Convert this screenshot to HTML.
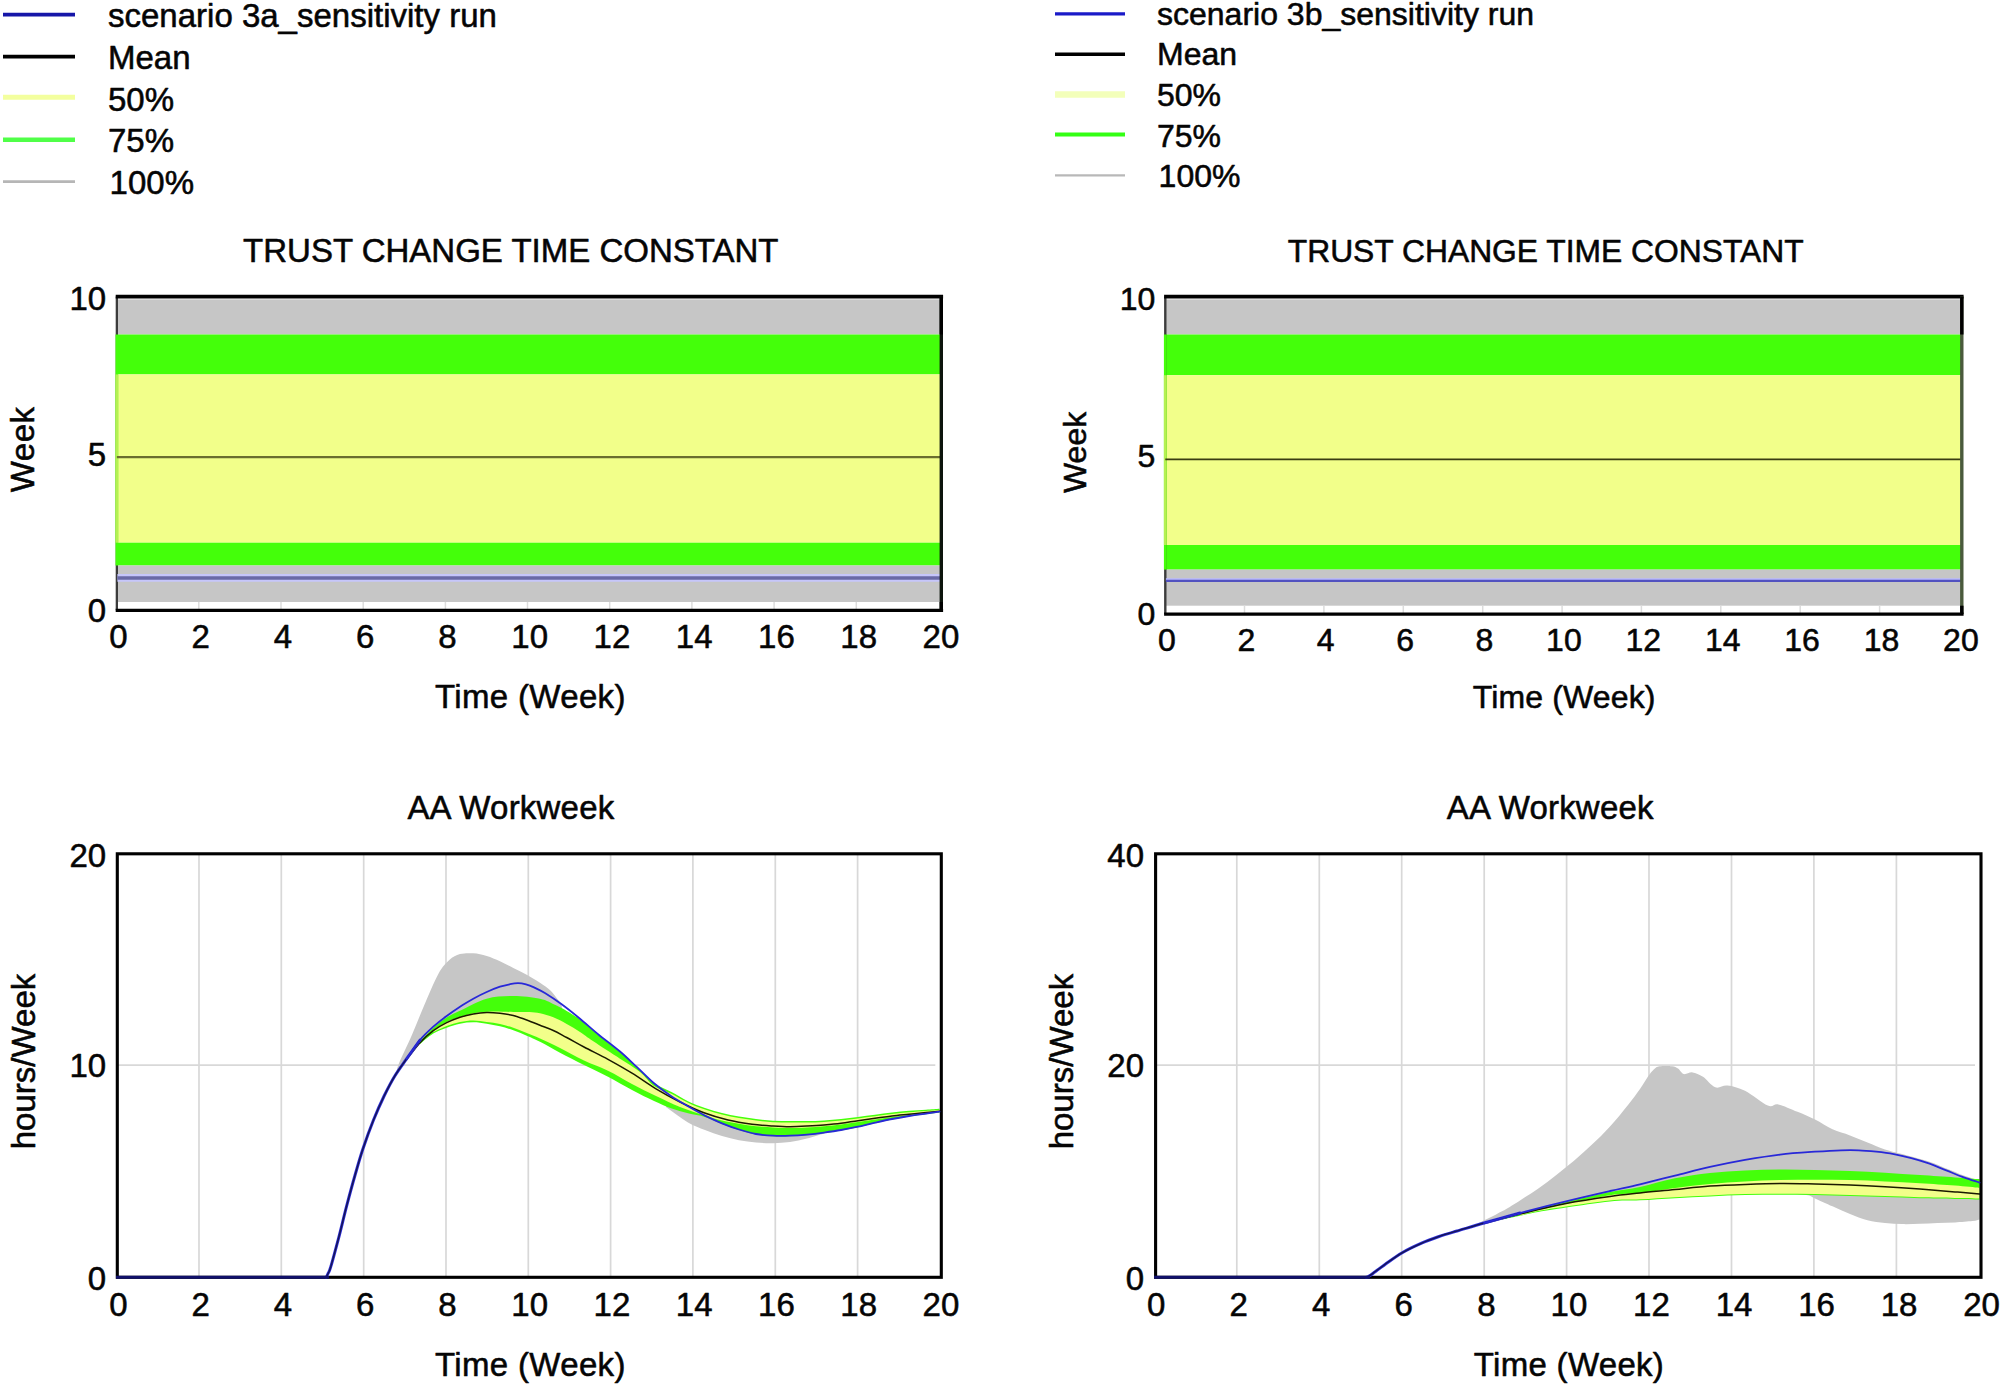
<!DOCTYPE html>
<html lang="en">
<head>
<meta charset="utf-8">
<title>Sensitivity runs: Trust change time constant and AA Workweek</title>
<style>
html, body { margin: 0; padding: 0; background: #ffffff; }
body { width: 2000px; height: 1387px; overflow: hidden; }
svg { display: block; }
svg text { font-family: "Liberation Sans", Arial, sans-serif; fill: #050505; stroke: #050505; stroke-width: 0.55px; stroke-linejoin: round; }
</style>
</head>
<body>
<svg width="2000" height="1387" viewBox="0 0 2000 1387">
<rect x="0" y="0" width="2000" height="1387" fill="#ffffff"/>
<line x1="3" y1="14.7" x2="75" y2="14.7" stroke="#1616a8" stroke-width="3.8"/>
<text x="108" y="27" font-size="33" text-anchor="start">scenario 3a_sensitivity run</text>
<line x1="3" y1="56.6" x2="75" y2="56.6" stroke="#000000" stroke-width="3.8"/>
<text x="108" y="68.9" font-size="33" text-anchor="start">Mean</text>
<line x1="3" y1="97.3" x2="75" y2="97.3" stroke="#f3ff9e" stroke-width="5.0"/>
<text x="108" y="110.6" font-size="33" text-anchor="start">50%</text>
<line x1="3" y1="139.7" x2="75" y2="139.7" stroke="#50ff48" stroke-width="4.6"/>
<text x="108" y="152.2" font-size="33" text-anchor="start">75%</text>
<line x1="3" y1="181.6" x2="75" y2="181.6" stroke="#b6b6b6" stroke-width="2.6"/>
<text x="109.6" y="193.9" font-size="33" text-anchor="start">100%</text>
<line x1="1055" y1="13.9" x2="1125" y2="13.9" stroke="#1a1ac8" stroke-width="3.2"/>
<text x="1157" y="25" font-size="32" text-anchor="start">scenario 3b_sensitivity run</text>
<line x1="1055" y1="54.3" x2="1125" y2="54.3" stroke="#000000" stroke-width="3.6"/>
<text x="1157" y="65.4" font-size="32" text-anchor="start">Mean</text>
<line x1="1055" y1="94.5" x2="1125" y2="94.5" stroke="#f3ffba" stroke-width="6.5"/>
<text x="1157" y="106" font-size="32" text-anchor="start">50%</text>
<line x1="1055" y1="134.5" x2="1125" y2="134.5" stroke="#34ff14" stroke-width="4.2"/>
<text x="1157" y="146.6" font-size="32" text-anchor="start">75%</text>
<line x1="1055" y1="175.4" x2="1125" y2="175.4" stroke="#b8b8b8" stroke-width="2.2"/>
<text x="1158.6" y="187" font-size="32" text-anchor="start">100%</text>
<rect x="117.4" y="299.4" width="823.1" height="35.10000000000002" fill="#c6c6c6"/>
<rect x="117.4" y="334.5" width="823.1" height="39.89999999999998" fill="#44ff0a"/>
<rect x="117.4" y="374.4" width="823.1" height="168.30000000000007" fill="#f2ff8a"/>
<rect x="117.4" y="542.7" width="823.1" height="22.799999999999955" fill="#44ff0a"/>
<rect x="117.4" y="565.5" width="823.1" height="36.5" fill="#c6c6c6"/>
<line x1="116.85" y1="296.6" x2="116.85" y2="610.3" stroke="#3c3c3c" stroke-width="2.3"/>
<line x1="116.85" y1="334.5" x2="116.85" y2="565.5" stroke="#44ff0a" stroke-width="2.6999999999999997"/>
<line x1="116.85" y1="374.4" x2="116.85" y2="542.7" stroke="#b6f052" stroke-width="2.6999999999999997"/>
<line x1="116.85" y1="457.2" x2="940.5" y2="457.2" stroke="#6a6e2e" stroke-width="2.3"/>
<line x1="117.4" y1="577.9" x2="940.5" y2="577.9" stroke="#c6c6fa" stroke-width="7.8"/>
<line x1="117.4" y1="577.9" x2="940.5" y2="577.9" stroke="#6a6aa6" stroke-width="3.5"/>
<line x1="198.8" y1="602" x2="198.8" y2="610.3" stroke="#dcdcdc" stroke-width="1.5"/>
<line x1="281.0" y1="602" x2="281.0" y2="610.3" stroke="#dcdcdc" stroke-width="1.5"/>
<line x1="363.2" y1="602" x2="363.2" y2="610.3" stroke="#dcdcdc" stroke-width="1.5"/>
<line x1="445.4" y1="602" x2="445.4" y2="610.3" stroke="#dcdcdc" stroke-width="1.5"/>
<line x1="527.5" y1="602" x2="527.5" y2="610.3" stroke="#dcdcdc" stroke-width="1.5"/>
<line x1="609.7" y1="602" x2="609.7" y2="610.3" stroke="#dcdcdc" stroke-width="1.5"/>
<line x1="691.9" y1="602" x2="691.9" y2="610.3" stroke="#dcdcdc" stroke-width="1.5"/>
<line x1="774.1" y1="602" x2="774.1" y2="610.3" stroke="#dcdcdc" stroke-width="1.5"/>
<line x1="856.3" y1="602" x2="856.3" y2="610.3" stroke="#dcdcdc" stroke-width="1.5"/>
<line x1="115.7" y1="296.6" x2="943.0999999999999" y2="296.6" stroke="#000" stroke-width="3.6"/>
<line x1="115.7" y1="610.3" x2="943.0999999999999" y2="610.3" stroke="#000" stroke-width="3.2"/>
<line x1="941.3" y1="296.6" x2="941.3" y2="610.3" stroke="#0c140c" stroke-width="3.4"/>
<line x1="941.3" y1="296.6" x2="941.3" y2="334.5" stroke="#000" stroke-width="3.4"/>
<line x1="941.3" y1="602" x2="941.3" y2="610.3" stroke="#000" stroke-width="3.4"/>
<rect x="1165.9" y="299.4" width="795.0999999999999" height="35.10000000000002" fill="#c6c6c6"/>
<rect x="1165.9" y="334.5" width="795.0999999999999" height="40.69999999999999" fill="#44ff0a"/>
<rect x="1165.9" y="375.2" width="795.0999999999999" height="169.8" fill="#f2ff8a"/>
<rect x="1165.9" y="545" width="795.0999999999999" height="24.600000000000023" fill="#44ff0a"/>
<rect x="1165.9" y="569.6" width="795.0999999999999" height="36.10000000000002" fill="#c6c6c6"/>
<line x1="1165.3" y1="296.6" x2="1165.3" y2="614.1" stroke="#3c3c3c" stroke-width="2.4"/>
<line x1="1165.3" y1="334.5" x2="1165.3" y2="569.6" stroke="#44ff0a" stroke-width="2.8"/>
<line x1="1165.3" y1="375.2" x2="1165.3" y2="545" stroke="#b6f052" stroke-width="2.8"/>
<line x1="1165.3" y1="459.4" x2="1961" y2="459.4" stroke="#3a3c12" stroke-width="1.9"/>
<line x1="1165.9" y1="579.6" x2="1961" y2="579.6" stroke="#b8b8fc" stroke-width="2.6"/>
<line x1="1165.9" y1="580.8" x2="1961" y2="580.8" stroke="#5252c0" stroke-width="2.3"/>
<line x1="1244.5" y1="605.7" x2="1244.5" y2="614.1" stroke="#dcdcdc" stroke-width="1.5"/>
<line x1="1323.9" y1="605.7" x2="1323.9" y2="614.1" stroke="#dcdcdc" stroke-width="1.5"/>
<line x1="1403.3" y1="605.7" x2="1403.3" y2="614.1" stroke="#dcdcdc" stroke-width="1.5"/>
<line x1="1482.7" y1="605.7" x2="1482.7" y2="614.1" stroke="#dcdcdc" stroke-width="1.5"/>
<line x1="1562.1" y1="605.7" x2="1562.1" y2="614.1" stroke="#dcdcdc" stroke-width="1.5"/>
<line x1="1641.4" y1="605.7" x2="1641.4" y2="614.1" stroke="#dcdcdc" stroke-width="1.5"/>
<line x1="1720.8" y1="605.7" x2="1720.8" y2="614.1" stroke="#dcdcdc" stroke-width="1.5"/>
<line x1="1800.2" y1="605.7" x2="1800.2" y2="614.1" stroke="#dcdcdc" stroke-width="1.5"/>
<line x1="1879.6" y1="605.7" x2="1879.6" y2="614.1" stroke="#dcdcdc" stroke-width="1.5"/>
<line x1="1164.1" y1="296.6" x2="1963.6" y2="296.6" stroke="#000" stroke-width="3.6"/>
<line x1="1164.1" y1="614.1" x2="1963.6" y2="614.1" stroke="#000" stroke-width="3.2"/>
<line x1="1961.8" y1="296.6" x2="1961.8" y2="614.1" stroke="#4a5a3c" stroke-width="3.4"/>
<line x1="1961.8" y1="296.6" x2="1961.8" y2="334.5" stroke="#000" stroke-width="3.4"/>
<line x1="1961.8" y1="605.7" x2="1961.8" y2="614.1" stroke="#000" stroke-width="3.4"/>
<text x="510.8" y="262" font-size="33" text-anchor="middle">TRUST CHANGE TIME CONSTANT</text>
<text x="1545.7" y="262" font-size="31.8" text-anchor="middle">TRUST CHANGE TIME CONSTANT</text>
<text x="118.5" y="647.7" font-size="33" text-anchor="middle">0</text>
<text x="200.7" y="647.7" font-size="33" text-anchor="middle">2</text>
<text x="283.0" y="647.7" font-size="33" text-anchor="middle">4</text>
<text x="365.2" y="647.7" font-size="33" text-anchor="middle">6</text>
<text x="447.5" y="647.7" font-size="33" text-anchor="middle">8</text>
<text x="529.7" y="647.7" font-size="33" text-anchor="middle">10</text>
<text x="611.9" y="647.7" font-size="33" text-anchor="middle">12</text>
<text x="694.2" y="647.7" font-size="33" text-anchor="middle">14</text>
<text x="776.4" y="647.7" font-size="33" text-anchor="middle">16</text>
<text x="858.7" y="647.7" font-size="33" text-anchor="middle">18</text>
<text x="940.9" y="647.7" font-size="33" text-anchor="middle">20</text>
<text x="530.4" y="708" font-size="33" text-anchor="middle" letter-spacing="0.35">Time (Week)</text>
<text x="106.2" y="309.5" font-size="33" text-anchor="end">10</text>
<text x="106.2" y="466.3" font-size="33" text-anchor="end">5</text>
<text x="106.2" y="622" font-size="33" text-anchor="end">0</text>
<text x="33.8" y="449.3" font-size="33" text-anchor="middle" transform="rotate(-90 33.8 449.3)" letter-spacing="0.5">Week</text>
<text x="1166.9" y="650.6" font-size="32" text-anchor="middle">0</text>
<text x="1246.3" y="650.6" font-size="32" text-anchor="middle">2</text>
<text x="1325.7" y="650.6" font-size="32" text-anchor="middle">4</text>
<text x="1405.1" y="650.6" font-size="32" text-anchor="middle">6</text>
<text x="1484.5" y="650.6" font-size="32" text-anchor="middle">8</text>
<text x="1563.9" y="650.6" font-size="32" text-anchor="middle">10</text>
<text x="1643.3" y="650.6" font-size="32" text-anchor="middle">12</text>
<text x="1722.7" y="650.6" font-size="32" text-anchor="middle">14</text>
<text x="1802.1" y="650.6" font-size="32" text-anchor="middle">16</text>
<text x="1881.5" y="650.6" font-size="32" text-anchor="middle">18</text>
<text x="1960.9" y="650.6" font-size="32" text-anchor="middle">20</text>
<text x="1564.2" y="708" font-size="32" text-anchor="middle" letter-spacing="0.15">Time (Week)</text>
<text x="1155.4" y="309.5" font-size="32" text-anchor="end">10</text>
<text x="1155.4" y="467.2" font-size="32" text-anchor="end">5</text>
<text x="1155.4" y="625" font-size="32" text-anchor="end">0</text>
<text x="1085.6" y="452.4" font-size="32" text-anchor="middle" transform="rotate(-90 1085.6 452.4)">Week</text>
<line x1="199.0" y1="853.8" x2="199.0" y2="1277.3" stroke="#d8d8d8" stroke-width="1.7"/>
<line x1="281.3" y1="853.8" x2="281.3" y2="1277.3" stroke="#d8d8d8" stroke-width="1.7"/>
<line x1="363.7" y1="853.8" x2="363.7" y2="1277.3" stroke="#d8d8d8" stroke-width="1.7"/>
<line x1="446.0" y1="853.8" x2="446.0" y2="1277.3" stroke="#d8d8d8" stroke-width="1.7"/>
<line x1="528.3" y1="853.8" x2="528.3" y2="1277.3" stroke="#d8d8d8" stroke-width="1.7"/>
<line x1="610.6" y1="853.8" x2="610.6" y2="1277.3" stroke="#d8d8d8" stroke-width="1.7"/>
<line x1="692.9" y1="853.8" x2="692.9" y2="1277.3" stroke="#d8d8d8" stroke-width="1.7"/>
<line x1="775.3" y1="853.8" x2="775.3" y2="1277.3" stroke="#d8d8d8" stroke-width="1.7"/>
<line x1="857.6" y1="853.8" x2="857.6" y2="1277.3" stroke="#d8d8d8" stroke-width="1.7"/>
<line x1="117.3" y1="1065.05" x2="935.3" y2="1065.05" stroke="#d8d8d8" stroke-width="1.7"/>
<path d="M396.0,1076.0 C396.4,1074.0 396.0,1070.9 398.7,1064.0 C401.4,1057.1 407.6,1044.9 412.0,1034.7 C416.4,1024.5 420.9,1012.9 425.3,1002.7 C429.8,992.5 434.7,980.4 438.7,973.3 C442.7,966.2 445.8,963.2 449.3,960.0 C452.9,956.8 456.0,955.2 460.0,954.1 C464.0,953.0 468.9,953.0 473.3,953.3 C477.8,953.6 482.2,954.7 486.7,956.0 C491.1,957.3 495.6,959.3 500.0,961.3 C504.4,963.3 508.8,965.8 513.3,968.0 C517.8,970.2 522.2,972.2 526.7,974.7 C531.2,977.2 536.0,980.0 540.0,982.7 C544.0,985.4 547.2,987.2 550.7,990.7 C554.2,994.2 559.5,1001.8 561.3,1004.0 L561.3,1004.0 C562.2,1009.6 568.0,1033.1 566.7,1037.5 C565.4,1041.9 557.8,1032.5 553.3,1030.5 C548.8,1028.5 544.4,1027.0 540.0,1025.3 C535.6,1023.5 531.2,1021.6 526.7,1020.0 C522.2,1018.4 517.8,1016.6 513.3,1015.5 C508.8,1014.4 504.4,1013.8 500.0,1013.3 C495.6,1012.8 491.1,1012.4 486.7,1012.5 C482.2,1012.6 477.8,1013.1 473.3,1013.9 C468.9,1014.7 464.4,1015.8 460.0,1017.3 C455.6,1018.8 451.1,1020.5 446.7,1022.7 C442.2,1024.9 437.8,1027.4 433.3,1030.7 C428.9,1034.0 424.4,1037.9 420.0,1042.7 C415.6,1047.5 410.7,1054.0 406.7,1059.5 C402.7,1065.0 397.8,1073.2 396.0,1076.0 Z" fill="#c6c6c6"/>
<path d="M666.0,1093.5 C669.7,1095.6 681.5,1102.6 688.0,1106.3 C694.5,1110.0 699.3,1112.8 705.0,1115.6 C710.7,1118.4 716.3,1121.0 722.0,1123.3 C727.7,1125.6 733.3,1127.7 739.0,1129.5 C744.7,1131.3 750.3,1133.0 756.0,1134.0 C761.7,1135.0 767.3,1135.4 773.0,1135.7 C778.7,1136.0 784.3,1135.9 790.0,1135.7 C795.7,1135.5 801.3,1135.1 807.0,1134.6 C812.7,1134.1 821.2,1132.9 824.0,1132.6 L824.0,1133.5 C821.2,1134.3 812.7,1137.2 807.0,1138.6 C801.3,1140.0 795.7,1141.2 790.0,1142.0 C784.3,1142.8 778.7,1143.1 773.0,1143.2 C767.3,1143.3 761.7,1143.0 756.0,1142.5 C750.3,1142.0 744.7,1141.4 739.0,1140.3 C733.3,1139.2 727.7,1137.7 722.0,1136.0 C716.3,1134.3 710.7,1132.3 705.0,1130.0 C699.3,1127.7 694.5,1126.2 688.0,1122.4 C681.5,1118.6 669.7,1109.6 666.0,1107.0 Z" fill="#c6c6c6"/>
<path d="M420.0,1041.0 C422.2,1038.8 428.9,1031.9 433.3,1028.0 C437.8,1024.1 442.2,1020.4 446.7,1017.5 C451.1,1014.6 453.3,1013.8 460.0,1010.7 C466.7,1007.6 477.8,1001.2 486.7,998.7 C495.6,996.2 504.4,996.0 513.3,996.0 C522.2,996.0 532.9,997.2 540.0,998.7 C547.1,1000.2 551.5,1003.2 556.0,1005.3 C560.5,1007.3 562.7,1008.6 566.7,1011.0 C570.7,1013.4 574.7,1015.5 580.0,1019.5 C585.3,1023.5 592.0,1029.8 598.7,1035.2 C605.4,1040.6 613.6,1046.6 620.0,1052.0 C626.4,1057.4 631.3,1062.3 637.0,1067.5 C642.7,1072.7 648.3,1079.0 654.0,1083.0 C659.7,1087.0 665.3,1088.8 671.0,1091.8 C676.7,1094.8 682.3,1098.5 688.0,1101.2 C693.7,1103.9 699.3,1106.0 705.0,1108.0 C710.7,1110.0 716.3,1111.6 722.0,1113.0 C727.7,1114.4 733.3,1115.5 739.0,1116.5 C744.7,1117.5 750.3,1118.3 756.0,1119.0 C761.7,1119.7 767.3,1120.4 773.0,1120.7 C778.7,1121.0 784.3,1121.0 790.0,1121.0 C795.7,1121.0 801.3,1121.1 807.0,1121.0 C812.7,1120.9 818.3,1120.7 824.0,1120.4 C829.7,1120.1 835.3,1119.6 841.0,1119.0 C846.7,1118.4 852.3,1117.7 858.0,1117.0 C863.7,1116.3 869.3,1115.5 875.0,1114.8 C880.7,1114.0 886.3,1113.2 892.0,1112.5 C897.7,1111.8 903.3,1111.3 909.0,1110.8 C914.7,1110.3 920.9,1110.0 926.0,1109.7 C931.1,1109.4 937.2,1109.0 939.5,1108.8 L939.5,1112.5 C937.2,1112.8 931.1,1113.5 926.0,1114.2 C920.9,1114.9 914.7,1115.7 909.0,1116.6 C903.3,1117.5 897.7,1118.5 892.0,1119.6 C886.3,1120.7 880.7,1122.0 875.0,1123.3 C869.3,1124.6 863.7,1126.1 858.0,1127.3 C852.3,1128.5 846.7,1129.6 841.0,1130.6 C835.3,1131.6 829.7,1132.4 824.0,1133.2 C818.3,1134.0 812.7,1134.7 807.0,1135.2 C801.3,1135.7 795.7,1136.1 790.0,1136.3 C784.3,1136.5 778.7,1136.6 773.0,1136.3 C767.3,1136.0 761.7,1135.6 756.0,1134.6 C750.3,1133.6 744.7,1131.9 739.0,1130.1 C733.3,1128.3 727.7,1126.1 722.0,1123.9 C716.3,1121.7 710.7,1118.8 705.0,1117.0 C699.3,1115.2 693.7,1114.8 688.0,1113.3 C682.3,1111.8 676.7,1110.3 671.0,1108.3 C665.3,1106.2 660.5,1104.0 654.0,1101.0 C647.5,1098.0 639.7,1094.0 632.0,1090.0 C624.3,1086.0 616.0,1081.0 608.0,1076.8 C600.0,1072.6 592.0,1069.0 584.0,1065.0 C576.0,1061.0 567.3,1056.7 560.0,1052.8 C552.7,1048.9 545.5,1044.6 540.0,1041.8 C534.5,1039.0 531.2,1037.6 526.7,1035.7 C522.2,1033.8 517.8,1031.9 513.3,1030.3 C508.8,1028.7 504.4,1027.4 500.0,1026.3 C495.6,1025.2 491.1,1024.4 486.7,1023.7 C482.2,1023.0 477.8,1022.3 473.3,1022.3 C468.9,1022.3 464.4,1022.8 460.0,1023.7 C455.6,1024.6 451.1,1026.1 446.7,1027.7 C442.2,1029.3 437.8,1030.8 433.3,1033.5 C428.9,1036.2 422.2,1042.2 420.0,1044.0 Z" fill="#44ff0a"/>
<path d="M433.3,1030.0 C436.0,1028.5 442.6,1023.6 449.3,1020.8 C456.0,1018.0 466.2,1014.8 473.3,1013.3 C480.4,1011.8 485.3,1011.7 492.0,1011.5 C498.7,1011.3 507.1,1011.9 513.3,1012.0 C519.5,1012.1 524.8,1011.8 529.3,1012.0 C533.8,1012.2 536.0,1012.4 540.0,1013.3 C544.0,1014.2 548.8,1015.5 553.3,1017.3 C557.8,1019.1 562.2,1021.5 566.7,1024.0 C571.2,1026.5 575.6,1029.1 580.0,1032.0 C584.4,1034.9 586.6,1036.8 593.3,1041.3 C600.0,1045.8 612.2,1053.6 620.0,1058.7 C627.8,1063.8 634.3,1067.5 640.0,1072.0 C645.7,1076.5 648.8,1082.4 654.0,1086.0 C659.2,1089.6 665.3,1090.7 671.0,1093.5 C676.7,1096.3 682.3,1100.0 688.0,1102.7 C693.7,1105.4 699.3,1107.5 705.0,1109.5 C710.7,1111.5 716.3,1113.1 722.0,1114.5 C727.7,1115.9 733.3,1117.0 739.0,1118.0 C744.7,1119.0 750.3,1119.8 756.0,1120.5 C761.7,1121.2 767.3,1121.9 773.0,1122.2 C778.7,1122.5 784.3,1122.5 790.0,1122.5 C795.7,1122.5 801.3,1122.6 807.0,1122.5 C812.7,1122.4 818.3,1122.2 824.0,1121.9 C829.7,1121.6 835.3,1121.1 841.0,1120.5 C846.7,1119.9 852.3,1119.2 858.0,1118.5 C863.7,1117.8 869.3,1117.0 875.0,1116.3 C880.7,1115.5 886.3,1114.7 892.0,1114.0 C897.7,1113.3 903.3,1112.8 909.0,1112.3 C914.7,1111.8 920.9,1111.4 926.0,1111.0 C931.1,1110.6 937.2,1110.2 939.5,1110.0 L939.5,1112.0 C937.2,1112.2 931.1,1112.8 926.0,1113.3 C920.9,1113.8 914.7,1114.4 909.0,1115.0 C903.3,1115.6 897.7,1116.2 892.0,1117.0 C886.3,1117.8 880.7,1118.7 875.0,1119.5 C869.3,1120.3 863.7,1121.2 858.0,1122.0 C852.3,1122.8 846.7,1123.9 841.0,1124.6 C835.3,1125.3 829.7,1125.8 824.0,1126.3 C818.3,1126.8 812.7,1127.1 807.0,1127.4 C801.3,1127.7 795.7,1128.0 790.0,1128.0 C784.3,1128.0 778.7,1127.7 773.0,1127.4 C767.3,1127.1 761.7,1126.9 756.0,1126.3 C750.3,1125.7 744.7,1124.8 739.0,1123.8 C733.3,1122.8 727.8,1121.9 722.0,1120.5 C716.2,1119.1 711.0,1117.5 704.0,1115.2 C697.0,1113.0 688.0,1110.2 680.0,1107.0 C672.0,1103.8 664.0,1099.8 656.0,1096.0 C648.0,1092.2 640.0,1088.2 632.0,1084.0 C624.0,1079.8 616.0,1074.7 608.0,1070.8 C600.0,1066.9 592.0,1064.3 584.0,1060.5 C576.0,1056.7 567.3,1051.7 560.0,1048.0 C552.7,1044.3 545.5,1041.0 540.0,1038.5 C534.5,1036.0 531.2,1034.8 526.7,1033.0 C522.2,1031.2 517.8,1029.3 513.3,1027.8 C508.8,1026.3 504.4,1025.0 500.0,1024.0 C495.6,1023.0 491.1,1022.6 486.7,1022.0 C482.2,1021.4 477.8,1020.5 473.3,1020.5 C468.9,1020.5 464.4,1021.1 460.0,1022.0 C455.6,1022.9 451.1,1024.3 446.7,1026.0 C442.2,1027.7 435.5,1031.0 433.3,1032.0 Z" fill="#f2ff8a"/>
<path d="M406.7,1059.5 C408.9,1056.7 415.6,1047.5 420.0,1042.7 C424.4,1037.9 428.9,1034.0 433.3,1030.7 C437.8,1027.4 442.2,1024.9 446.7,1022.7 C451.1,1020.5 455.6,1018.8 460.0,1017.3 C464.4,1015.8 468.9,1014.7 473.3,1013.9 C477.8,1013.1 482.2,1012.6 486.7,1012.5 C491.1,1012.4 495.6,1012.8 500.0,1013.3 C504.4,1013.8 508.8,1014.4 513.3,1015.5 C517.8,1016.6 522.2,1018.4 526.7,1020.0 C531.2,1021.6 535.6,1023.5 540.0,1025.3 C544.4,1027.0 548.8,1028.5 553.3,1030.5 C557.8,1032.5 561.6,1034.8 566.7,1037.5 C571.8,1040.2 577.1,1043.3 584.0,1047.0 C590.9,1050.7 600.0,1055.0 608.0,1059.4 C616.0,1063.8 624.0,1068.3 632.0,1073.2 C640.0,1078.1 648.0,1084.0 656.0,1088.8 C664.0,1093.6 672.0,1098.0 680.0,1102.0 C688.0,1106.0 696.0,1109.8 704.0,1112.8 C712.0,1115.8 720.0,1118.1 728.0,1120.0 C736.0,1121.9 744.5,1123.2 752.0,1124.2 C759.5,1125.2 766.7,1125.6 773.0,1126.0 C779.3,1126.4 784.3,1126.7 790.0,1126.7 C795.7,1126.7 801.3,1126.4 807.0,1126.1 C812.7,1125.8 818.3,1125.5 824.0,1125.0 C829.7,1124.5 835.3,1124.0 841.0,1123.3 C846.7,1122.6 852.3,1121.5 858.0,1120.7 C863.7,1119.9 869.3,1119.0 875.0,1118.2 C880.7,1117.4 886.3,1116.7 892.0,1116.0 C897.7,1115.3 903.3,1114.8 909.0,1114.2 C914.7,1113.6 920.9,1113.0 926.0,1112.5 C931.1,1112.0 937.2,1111.4 939.5,1111.2" fill="none" stroke="#1a1a00" stroke-width="1.5" stroke-linejoin="round" stroke-linecap="round"/>
<rect x="117.3" y="853.8" width="824.0" height="423.5" fill="none" stroke="#000" stroke-width="3.1"/>
<path d="M326.1,1277.3 C326.4,1276.8 327.0,1275.8 327.8,1274.0 C328.6,1272.2 329.0,1272.8 330.8,1266.7 C332.6,1260.6 336.1,1247.5 338.8,1237.3 C341.5,1227.1 344.1,1215.5 346.8,1205.3 C349.5,1195.1 352.1,1185.3 354.8,1176.0 C357.5,1166.7 359.7,1158.6 362.8,1149.3 C365.9,1140.0 369.9,1128.9 373.5,1120.0 C377.1,1111.1 380.6,1103.3 384.1,1096.0 C387.7,1088.7 391.0,1082.2 394.8,1076.0 C398.6,1069.8 402.5,1064.7 406.7,1058.7 C410.9,1052.7 417.8,1043.1 420.0,1040.0" fill="none" stroke="#3232e0" stroke-width="3.0" stroke-linejoin="round" stroke-linecap="round"/>
<path d="M326.1,1277.3 C326.4,1276.8 327.0,1275.8 327.8,1274.0 C328.6,1272.2 329.0,1272.8 330.8,1266.7 C332.6,1260.6 336.1,1247.5 338.8,1237.3 C341.5,1227.1 344.1,1215.5 346.8,1205.3 C349.5,1195.1 352.1,1185.3 354.8,1176.0 C357.5,1166.7 359.7,1158.6 362.8,1149.3 C365.9,1140.0 369.9,1128.9 373.5,1120.0 C377.1,1111.1 380.6,1103.3 384.1,1096.0 C387.7,1088.7 391.0,1082.2 394.8,1076.0 C398.6,1069.8 402.5,1064.7 406.7,1058.7 C410.9,1052.7 417.8,1043.1 420.0,1040.0" fill="none" stroke="#15155c" stroke-width="1.6" stroke-linejoin="round" stroke-linecap="round"/>
<path d="M406.7,1058.7 C408.9,1055.6 415.6,1045.3 420.0,1040.0 C424.4,1034.7 428.9,1030.7 433.3,1026.7 C437.8,1022.7 442.2,1019.3 446.7,1016.0 C451.1,1012.7 455.6,1009.6 460.0,1006.7 C464.4,1003.8 468.9,1001.2 473.3,998.7 C477.8,996.2 482.2,994.0 486.7,992.0 C491.1,990.0 496.1,988.0 500.0,986.7 C503.9,985.4 507.0,984.8 510.0,984.2 C513.0,983.6 515.3,983.2 518.0,983.2 C520.7,983.2 523.3,983.7 526.0,984.4 C528.7,985.1 530.8,985.9 534.0,987.4 C537.2,988.9 540.8,990.5 545.3,993.3 C549.8,996.1 555.5,999.8 561.3,1004.0 C567.1,1008.2 573.8,1013.6 580.0,1018.7 C586.2,1023.8 592.0,1029.2 598.7,1034.7 C605.4,1040.2 613.6,1046.1 620.0,1051.5 C626.4,1056.9 631.3,1061.9 637.0,1067.2 C642.7,1072.5 648.3,1078.5 654.0,1083.3 C659.7,1088.1 665.3,1092.2 671.0,1096.0 C676.7,1099.8 682.3,1103.0 688.0,1106.3 C693.7,1109.6 699.3,1112.8 705.0,1115.6 C710.7,1118.4 716.3,1121.0 722.0,1123.3 C727.7,1125.6 733.3,1127.7 739.0,1129.5 C744.7,1131.3 750.3,1133.0 756.0,1134.0 C761.7,1135.0 767.3,1135.4 773.0,1135.7 C778.7,1136.0 784.3,1135.9 790.0,1135.7 C795.7,1135.5 801.3,1135.1 807.0,1134.6 C812.7,1134.1 818.3,1133.4 824.0,1132.6 C829.7,1131.8 835.3,1131.0 841.0,1130.0 C846.7,1129.0 852.3,1127.9 858.0,1126.7 C863.7,1125.5 869.3,1124.0 875.0,1122.7 C880.7,1121.4 886.3,1120.1 892.0,1119.0 C897.7,1117.9 903.3,1116.9 909.0,1116.0 C914.7,1115.1 920.9,1114.3 926.0,1113.6 C931.1,1112.9 937.2,1112.0 939.5,1111.7" fill="none" stroke="#2828d8" stroke-width="1.8" stroke-linejoin="round" stroke-linecap="round"/>
<line x1="116" y1="1277.3" x2="329" y2="1277.3" stroke="#10106a" stroke-width="3.1"/>
<text x="510.9" y="818.5" font-size="33" text-anchor="middle" letter-spacing="0.2">AA Workweek</text>
<text x="118.5" y="1316.3" font-size="33" text-anchor="middle">0</text>
<text x="200.7" y="1316.3" font-size="33" text-anchor="middle">2</text>
<text x="283.0" y="1316.3" font-size="33" text-anchor="middle">4</text>
<text x="365.2" y="1316.3" font-size="33" text-anchor="middle">6</text>
<text x="447.5" y="1316.3" font-size="33" text-anchor="middle">8</text>
<text x="529.7" y="1316.3" font-size="33" text-anchor="middle">10</text>
<text x="611.9" y="1316.3" font-size="33" text-anchor="middle">12</text>
<text x="694.2" y="1316.3" font-size="33" text-anchor="middle">14</text>
<text x="776.4" y="1316.3" font-size="33" text-anchor="middle">16</text>
<text x="858.7" y="1316.3" font-size="33" text-anchor="middle">18</text>
<text x="940.9" y="1316.3" font-size="33" text-anchor="middle">20</text>
<text x="530.4" y="1375.7" font-size="33" text-anchor="middle" letter-spacing="0.35">Time (Week)</text>
<text x="106.2" y="867" font-size="33" text-anchor="end">20</text>
<text x="106.2" y="1077" font-size="33" text-anchor="end">10</text>
<text x="106.2" y="1289.5" font-size="33" text-anchor="end">0</text>
<text x="34.6" y="1061.5" font-size="33" text-anchor="middle" transform="rotate(-90 34.6 1061.5)">hours/Week</text>
<line x1="1236.8" y1="853.8" x2="1236.8" y2="1277.3" stroke="#d8d8d8" stroke-width="1.7"/>
<line x1="1319.3" y1="853.8" x2="1319.3" y2="1277.3" stroke="#d8d8d8" stroke-width="1.7"/>
<line x1="1401.7" y1="853.8" x2="1401.7" y2="1277.3" stroke="#d8d8d8" stroke-width="1.7"/>
<line x1="1484.2" y1="853.8" x2="1484.2" y2="1277.3" stroke="#d8d8d8" stroke-width="1.7"/>
<line x1="1566.6" y1="853.8" x2="1566.6" y2="1277.3" stroke="#d8d8d8" stroke-width="1.7"/>
<line x1="1649.0" y1="853.8" x2="1649.0" y2="1277.3" stroke="#d8d8d8" stroke-width="1.7"/>
<line x1="1731.5" y1="853.8" x2="1731.5" y2="1277.3" stroke="#d8d8d8" stroke-width="1.7"/>
<line x1="1813.9" y1="853.8" x2="1813.9" y2="1277.3" stroke="#d8d8d8" stroke-width="1.7"/>
<line x1="1896.4" y1="853.8" x2="1896.4" y2="1277.3" stroke="#d8d8d8" stroke-width="1.7"/>
<line x1="1155.6" y1="1065.05" x2="1975" y2="1065.05" stroke="#d8d8d8" stroke-width="1.7"/>
<path d="M1457.0,1231.0 C1460.0,1230.0 1467.5,1228.1 1475.0,1224.8 C1482.5,1221.5 1494.5,1215.4 1502.0,1211.3 C1509.5,1207.2 1514.0,1204.2 1520.0,1200.4 C1526.0,1196.6 1532.0,1192.9 1538.0,1188.7 C1544.0,1184.5 1550.0,1179.9 1556.0,1175.2 C1562.0,1170.5 1568.0,1165.9 1574.0,1160.8 C1580.0,1155.7 1586.0,1150.3 1592.0,1144.6 C1598.0,1138.9 1604.0,1133.1 1610.0,1126.5 C1616.0,1119.9 1623.0,1111.2 1628.0,1104.9 C1633.0,1098.7 1636.7,1093.7 1640.0,1089.0 C1643.3,1084.3 1645.7,1079.8 1648.0,1076.5 C1650.3,1073.2 1652.1,1071.0 1654.0,1069.3 C1655.9,1067.6 1656.5,1066.8 1659.5,1066.3 C1662.5,1065.8 1668.9,1065.8 1672.0,1066.2 C1675.1,1066.6 1676.0,1067.3 1678.0,1068.6 C1680.0,1069.9 1681.4,1073.5 1683.8,1074.1 C1686.2,1074.7 1689.3,1072.0 1692.5,1072.4 C1695.7,1072.9 1699.2,1074.3 1703.0,1076.8 C1706.8,1079.3 1711.2,1085.8 1715.3,1087.3 C1719.4,1088.8 1722.5,1084.9 1727.5,1085.5 C1732.5,1086.1 1738.3,1087.5 1745.0,1090.8 C1751.7,1094.1 1762.2,1103.3 1767.8,1105.6 C1773.3,1107.9 1773.3,1103.4 1778.3,1104.4 C1783.2,1105.4 1791.4,1109.3 1797.5,1111.8 C1803.6,1114.3 1809.2,1116.7 1815.0,1119.6 C1820.8,1122.5 1826.7,1126.7 1832.5,1129.3 C1838.3,1131.9 1844.2,1133.2 1850.0,1135.4 C1855.8,1137.6 1861.7,1140.1 1867.5,1142.4 C1873.3,1144.7 1879.6,1147.6 1885.0,1149.4 C1890.4,1151.2 1892.7,1151.5 1900.0,1153.5 C1907.3,1155.5 1921.1,1159.0 1928.8,1161.5 C1936.5,1164.0 1940.5,1166.2 1946.3,1168.5 C1952.1,1170.8 1958.3,1173.5 1963.8,1175.5 C1969.3,1177.5 1976.9,1179.7 1979.5,1180.5 L1979.5,1219.4 C1978.3,1219.7 1976.6,1220.6 1972.5,1221.1 C1968.4,1221.6 1960.8,1222.1 1955.0,1222.4 C1949.2,1222.7 1943.3,1222.7 1937.5,1222.9 C1931.7,1223.1 1925.8,1223.6 1920.0,1223.8 C1914.2,1224.0 1908.3,1224.2 1902.5,1224.1 C1896.7,1223.9 1890.8,1223.5 1885.0,1222.9 C1879.2,1222.3 1873.3,1221.8 1867.5,1220.3 C1861.7,1218.8 1855.8,1216.4 1850.0,1214.1 C1844.2,1211.8 1838.3,1208.9 1832.5,1206.3 C1826.7,1203.7 1819.4,1200.3 1815.0,1198.4 C1810.6,1196.5 1811.8,1195.8 1806.0,1195.0 C1800.2,1194.2 1790.2,1193.9 1780.0,1193.7 C1769.8,1193.5 1756.7,1193.7 1745.0,1194.0 C1733.3,1194.3 1721.7,1194.9 1710.0,1195.4 C1698.3,1195.9 1686.7,1196.6 1675.0,1197.2 C1663.3,1197.8 1650.8,1198.8 1640.0,1199.3 C1629.2,1199.8 1622.3,1199.2 1610.0,1200.4 C1597.7,1201.6 1578.0,1204.7 1566.0,1206.5 C1554.0,1208.3 1548.7,1209.0 1538.0,1211.0 C1527.3,1213.0 1512.5,1216.3 1502.0,1218.8 C1491.5,1221.3 1479.5,1224.8 1475.0,1226.0 Z" fill="#c6c6c6"/>
<path d="M1502.0,1218.0 C1508.0,1216.4 1527.3,1211.2 1538.0,1208.5 C1548.7,1205.8 1554.0,1204.8 1566.0,1202.0 C1578.0,1199.2 1597.7,1194.5 1610.0,1192.0 C1622.3,1189.5 1629.2,1189.3 1640.0,1187.0 C1650.8,1184.7 1663.3,1180.6 1675.0,1178.3 C1686.7,1176.0 1698.3,1174.3 1710.0,1173.0 C1721.7,1171.7 1733.3,1171.0 1745.0,1170.4 C1756.7,1169.8 1768.3,1169.6 1780.0,1169.5 C1791.7,1169.4 1803.3,1169.7 1815.0,1169.9 C1826.7,1170.1 1838.3,1170.4 1850.0,1170.9 C1861.7,1171.4 1873.3,1172.0 1885.0,1172.7 C1896.7,1173.4 1908.3,1174.3 1920.0,1175.1 C1931.7,1175.9 1945.1,1176.7 1955.0,1177.4 C1964.9,1178.1 1975.4,1178.8 1979.5,1179.1 L1979.5,1199.4 C1975.4,1199.3 1964.9,1199.1 1955.0,1198.9 C1945.1,1198.7 1931.7,1198.5 1920.0,1198.2 C1908.3,1197.9 1896.7,1197.5 1885.0,1197.1 C1873.3,1196.7 1861.7,1196.2 1850.0,1195.9 C1838.3,1195.6 1826.7,1195.2 1815.0,1195.0 C1803.3,1194.8 1791.7,1194.7 1780.0,1194.7 C1768.3,1194.7 1756.7,1194.7 1745.0,1195.0 C1733.3,1195.3 1721.7,1195.9 1710.0,1196.4 C1698.3,1196.9 1686.7,1197.6 1675.0,1198.2 C1663.3,1198.8 1650.8,1199.8 1640.0,1200.3 C1629.2,1200.8 1622.3,1200.2 1610.0,1201.4 C1597.7,1202.6 1578.0,1205.7 1566.0,1207.5 C1554.0,1209.3 1548.7,1210.0 1538.0,1212.0 C1527.3,1214.0 1508.0,1218.2 1502.0,1219.5 Z" fill="#44ff0a"/>
<path d="M1520.0,1214.5 C1527.7,1212.7 1551.0,1207.0 1566.0,1203.8 C1581.0,1200.6 1597.7,1197.0 1610.0,1195.2 C1622.3,1193.4 1629.2,1194.3 1640.0,1193.1 C1650.8,1191.9 1663.3,1189.4 1675.0,1187.9 C1686.7,1186.4 1698.3,1185.0 1710.0,1183.9 C1721.7,1182.8 1733.3,1182.1 1745.0,1181.4 C1756.7,1180.8 1768.3,1180.3 1780.0,1180.0 C1791.7,1179.7 1803.3,1179.7 1815.0,1179.7 C1826.7,1179.7 1838.3,1179.7 1850.0,1180.0 C1861.7,1180.3 1873.3,1180.9 1885.0,1181.4 C1896.7,1181.9 1908.3,1182.5 1920.0,1183.2 C1931.7,1183.9 1945.1,1184.8 1955.0,1185.6 C1964.9,1186.4 1975.4,1187.5 1979.5,1187.9 L1979.5,1198.4 C1975.4,1198.3 1964.9,1198.1 1955.0,1197.9 C1945.1,1197.7 1931.7,1197.5 1920.0,1197.2 C1908.3,1196.9 1896.7,1196.5 1885.0,1196.1 C1873.3,1195.7 1861.7,1195.2 1850.0,1194.9 C1838.3,1194.6 1826.7,1194.2 1815.0,1194.0 C1803.3,1193.8 1791.7,1193.7 1780.0,1193.7 C1768.3,1193.7 1756.7,1193.7 1745.0,1194.0 C1733.3,1194.3 1721.7,1194.9 1710.0,1195.4 C1698.3,1195.9 1686.7,1196.6 1675.0,1197.2 C1663.3,1197.8 1650.8,1198.8 1640.0,1199.3 C1629.2,1199.8 1622.3,1199.2 1610.0,1200.4 C1597.7,1201.6 1578.0,1204.7 1566.0,1206.5 C1554.0,1208.3 1545.7,1209.5 1538.0,1211.0 C1530.3,1212.5 1523.0,1214.8 1520.0,1215.5 Z" fill="#f2ff8a"/>
<path d="M1484.0,1223.5 C1490.0,1221.9 1506.3,1217.3 1520.0,1214.0 C1533.7,1210.7 1551.0,1206.4 1566.0,1203.5 C1581.0,1200.6 1597.7,1198.2 1610.0,1196.5 C1622.3,1194.8 1629.2,1194.2 1640.0,1193.0 C1650.8,1191.8 1663.3,1190.8 1675.0,1189.6 C1686.7,1188.4 1698.3,1187.0 1710.0,1186.1 C1721.7,1185.2 1733.3,1184.8 1745.0,1184.4 C1756.7,1184.0 1768.3,1183.6 1780.0,1183.5 C1791.7,1183.4 1803.3,1183.7 1815.0,1183.9 C1826.7,1184.1 1838.3,1184.4 1850.0,1184.9 C1861.7,1185.4 1873.3,1186.0 1885.0,1186.7 C1896.7,1187.4 1908.3,1188.2 1920.0,1189.1 C1931.7,1190.0 1945.1,1191.1 1955.0,1191.9 C1964.9,1192.7 1975.4,1193.7 1979.5,1194.0" fill="none" stroke="#1a1a00" stroke-width="1.5" stroke-linejoin="round" stroke-linecap="round"/>
<rect x="1155.6" y="853.8" width="825.4000000000001" height="423.5" fill="none" stroke="#000" stroke-width="3.1"/>
<path d="M1366.0,1277.3 C1366.7,1277.0 1366.8,1277.7 1370.0,1275.5 C1373.2,1273.3 1379.6,1268.2 1385.0,1264.4 C1390.4,1260.6 1396.2,1256.2 1402.2,1252.7 C1408.2,1249.2 1414.9,1246.1 1421.0,1243.4 C1427.1,1240.7 1433.0,1238.6 1439.0,1236.5 C1445.0,1234.4 1449.5,1233.2 1457.0,1231.0 C1464.5,1228.8 1473.5,1226.0 1484.0,1223.0 C1494.5,1220.0 1514.0,1214.7 1520.0,1213.0" fill="none" stroke="#3232e0" stroke-width="3.0" stroke-linejoin="round" stroke-linecap="round"/>
<path d="M1366.0,1277.3 C1366.7,1277.0 1366.8,1277.7 1370.0,1275.5 C1373.2,1273.3 1379.6,1268.2 1385.0,1264.4 C1390.4,1260.6 1396.2,1256.2 1402.2,1252.7 C1408.2,1249.2 1414.9,1246.1 1421.0,1243.4 C1427.1,1240.7 1433.0,1238.6 1439.0,1236.5 C1445.0,1234.4 1449.5,1233.2 1457.0,1231.0 C1464.5,1228.8 1473.5,1226.0 1484.0,1223.0 C1494.5,1220.0 1514.0,1214.7 1520.0,1213.0" fill="none" stroke="#15155c" stroke-width="1.6" stroke-linejoin="round" stroke-linecap="round"/>
<path d="M1484.0,1223.0 C1490.0,1221.3 1506.3,1216.6 1520.0,1213.0 C1533.7,1209.4 1551.0,1205.0 1566.0,1201.3 C1581.0,1197.6 1597.7,1193.8 1610.0,1191.0 C1622.3,1188.2 1629.2,1186.9 1640.0,1184.3 C1650.8,1181.7 1663.3,1178.5 1675.0,1175.6 C1686.7,1172.7 1698.3,1169.5 1710.0,1166.9 C1721.7,1164.3 1733.3,1162.0 1745.0,1159.9 C1756.7,1157.9 1768.3,1156.0 1780.0,1154.6 C1791.7,1153.2 1804.8,1152.4 1815.0,1151.7 C1825.2,1151.0 1833.7,1150.5 1841.0,1150.3 C1848.3,1150.1 1852.9,1150.1 1858.8,1150.3 C1864.7,1150.5 1870.5,1151.1 1876.3,1151.7 C1882.1,1152.3 1888.0,1153.0 1893.8,1154.1 C1899.6,1155.2 1905.5,1156.5 1911.3,1158.1 C1917.1,1159.6 1923.0,1161.4 1928.8,1163.4 C1934.6,1165.5 1940.5,1168.1 1946.3,1170.4 C1952.1,1172.7 1958.3,1175.4 1963.8,1177.4 C1969.3,1179.4 1976.9,1181.7 1979.5,1182.6" fill="none" stroke="#2828d8" stroke-width="1.8" stroke-linejoin="round" stroke-linecap="round"/>
<line x1="1154" y1="1277.3" x2="1370" y2="1277.3" stroke="#10106a" stroke-width="3.1"/>
<text x="1550.2" y="818.5" font-size="33" text-anchor="middle" letter-spacing="0.2">AA Workweek</text>
<text x="1156.2" y="1316.3" font-size="33" text-anchor="middle">0</text>
<text x="1238.7" y="1316.3" font-size="33" text-anchor="middle">2</text>
<text x="1321.3" y="1316.3" font-size="33" text-anchor="middle">4</text>
<text x="1403.8" y="1316.3" font-size="33" text-anchor="middle">6</text>
<text x="1486.4" y="1316.3" font-size="33" text-anchor="middle">8</text>
<text x="1568.9" y="1316.3" font-size="33" text-anchor="middle">10</text>
<text x="1651.4" y="1316.3" font-size="33" text-anchor="middle">12</text>
<text x="1734.0" y="1316.3" font-size="33" text-anchor="middle">14</text>
<text x="1816.5" y="1316.3" font-size="33" text-anchor="middle">16</text>
<text x="1899.1" y="1316.3" font-size="33" text-anchor="middle">18</text>
<text x="1981.6" y="1316.3" font-size="33" text-anchor="middle">20</text>
<text x="1569" y="1375.7" font-size="33" text-anchor="middle" letter-spacing="0.3">Time (Week)</text>
<text x="1144" y="867" font-size="33" text-anchor="end">40</text>
<text x="1144" y="1077" font-size="33" text-anchor="end">20</text>
<text x="1144" y="1289.5" font-size="33" text-anchor="end">0</text>
<text x="1072.6" y="1061.5" font-size="33" text-anchor="middle" transform="rotate(-90 1072.6 1061.5)">hours/Week</text>
</svg>
</body>
</html>
